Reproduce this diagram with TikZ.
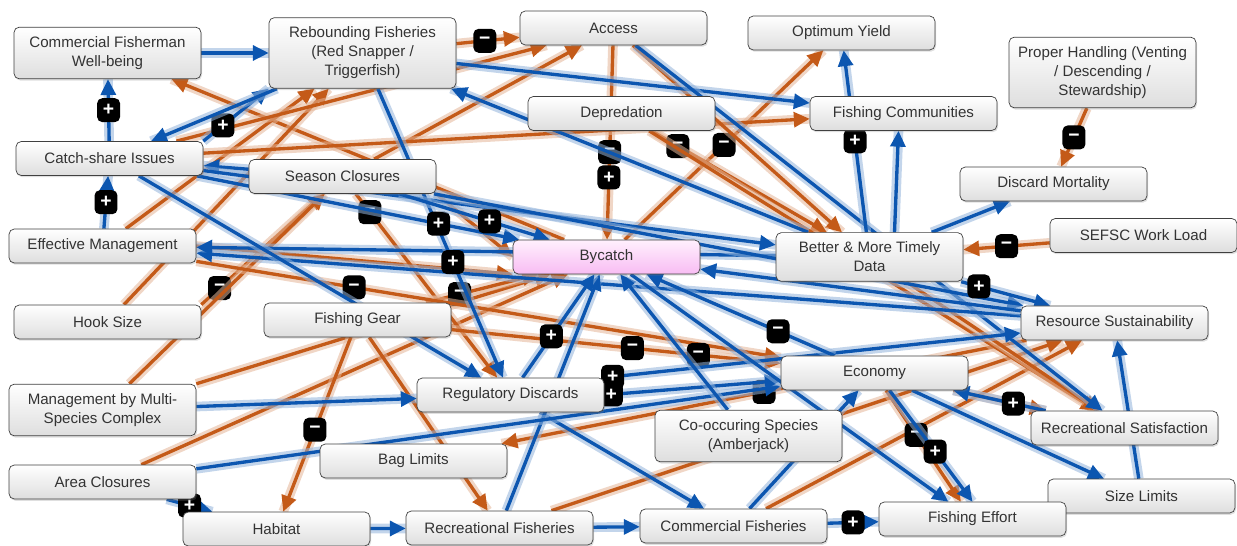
\documentclass[tikz,border=0pt]{standalone}
\usepackage{fontspec}
\setmainfont{Liberation Sans}
\usetikzlibrary{arrows.meta,calc,shadows}
\definecolor{linkblue}{RGB}{12,86,176}
\definecolor{linkorange}{RGB}{196,90,24}
\definecolor{boxgray}{RGB}{222,222,222}
\definecolor{bytop}{RGB}{255,240,253}
\definecolor{bybot}{RGB}{248,188,243}
\pgfdeclarelayer{front}
\pgfsetlayers{main,front}

\begin{document}
\begin{tikzpicture}[
  x=0.02cm, y=-0.02cm,
  factor/.style={draw=black!75,rounded corners=3pt,top color=white,bottom color=boxgray,
    minimum width=3.74cm,minimum height=0.68cm,inner xsep=3pt,inner ysep=5.3pt,align=center,
    font=\fontsize{8.6}{10.8}\selectfont,text=black!80,
    drop shadow={opacity=0.25,shadow xshift=0.6pt,shadow yshift=-1pt}},
  hub/.style={factor,top color=bytop,bottom color=bybot},
  posarr/.style={draw=linkblue,line width=1.9pt,-{Triangle[length=9pt,width=8.5pt]},
    preaction={draw=linkblue!45,line width=5.5pt,opacity=0.55,-}},
  negarr/.style={draw=linkorange,line width=1.9pt,-{Triangle[length=9pt,width=8.5pt]},
    preaction={draw=linkorange!45,line width=5.5pt,opacity=0.55,-}},
  sgn/.style={fill=black,text=white,rounded corners=3pt,minimum width=0.46cm,minimum height=0.48cm,
    inner sep=0pt,font=\bfseries\fontsize{11}{11}\selectfont}
]
\useasboundingbox (0,0) rectangle (1237,546);

% factors
\begin{pgfonlayer}{front}
\node[factor] (cfw)        at (107.5,53)   {Commercial Fisherman\\Well-being};
\node[factor] (rebound)    at (362.5,53)   {Rebounding Fisheries\\(Red Snapper /\\Triggerfish)};
\node[factor] (access)     at (613.5,28)   {Access};
\node[factor] (optyield)   at (841.5,33)   {Optimum Yield};
\node[factor] (handling)   at (1102.5,72.5) {Proper Handling (Venting\\/ Descending /\\Stewardship)};
\node[factor] (fcomm)      at (903.5,113.5) {Fishing Communities};
\node[factor] (depred)     at (621.5,113.5) {Depredation};
\node[factor] (catchshare) at (109.5,158.5) {Catch-share Issues};
\node[factor] (season)     at (342.5,176.5) {Season Closures};
\node[factor] (discmort)   at (1053.5,184)  {Discard Mortality};
\node[factor] (sefsc)      at (1143.5,235.5) {SEFSC Work Load};
\node[factor] (effmgmt)    at (102.5,246)   {Effective Management};
\node[hub]    (bycatch)    at (606.5,257)   {Bycatch};
\node[factor] (data)       at (869.5,257)   {Better \& More Timely\\Data};
\node[factor] (hook)       at (107.5,322)   {Hook Size};
\node[factor] (gear)       at (357.5,320)   {Fishing Gear};
\node[factor] (resource)   at (1114.5,323)  {Resource Sustainability};
\node[factor] (economy)    at (874.5,373)   {Economy};
\node[factor] (multisp)    at (102.5,410)   {Management by Multi-\\Species Complex};
\node[factor] (regdisc)    at (510.5,395)   {Regulatory Discards};
\node[factor] (cooccur)    at (748.5,436)   {Co-occuring Species\\(Amberjack)};
\node[factor] (recsat)     at (1124.5,428)  {Recreational Satisfaction};
\node[factor] (baglim)     at (413.5,461)   {Bag Limits};
\node[factor] (areacl)     at (102.5,482)   {Area Closures};
\node[factor] (sizelim)    at (1141.5,496)  {Size Limits};
\node[factor] (habitat)    at (276.5,529)   {Habitat};
\node[factor] (recfish)    at (499.5,528)   {Recreational Fisheries};
\node[factor] (comfish)    at (733.5,526)   {Commercial Fisheries};
\node[factor] (effort)     at (972.5,519)   {Fishing Effort};
\end{pgfonlayer}

% negative links
\draw[negarr] (bycatch) -- (cfw);
\draw[negarr] (effmgmt) -- (rebound);
\draw[negarr] (hook) -- (rebound);
\draw[negarr] (hook.north east) -- node[sgn,pos=.15]{−} (season);
\draw[negarr] (multisp) -- (season);
\draw[negarr] (multisp.north east) -- (bycatch);
\draw[negarr] (areacl) -- (bycatch);
\draw[negarr] (gear) -- node[sgn,pos=.53]{−} (habitat);
\draw[negarr] (gear) -- (recfish);
\draw[negarr] (resource) -- node[sgn,pos=.5]{−} (baglim);
\draw[negarr] (recfish) -- (resource);
\draw[negarr] (comfish) -- (resource);
\draw[negarr] (handling) -- node[sgn]{−} (discmort);
\draw[negarr] (sefsc) -- node[sgn]{−} (data);
\draw[negarr] (bycatch) -- node[sgn]{−} (optyield);
\draw[negarr] (access) -- node[sgn,pos=.55]{−} node[sgn,pos=.68]{+} (bycatch);
\draw[negarr] (rebound) -- node[sgn,pos=.45]{−} (access);
\draw[negarr] (season) -- (access);
\draw[negarr] (catchshare) -- (access);
\draw[negarr] (catchshare) -- (fcomm);
\draw[negarr] (access) -- (data);
\draw[negarr] (depred) -- node[sgn,pos=.15]{−} (data);
\draw[negarr] (depred) -- (recsat);
\draw[negarr] (data) -- (recsat);
\draw[negarr] (economy) -- (recsat);
\draw[negarr] (season.south east) -- (bycatch.west);
\draw[negarr] (effmgmt.east) -- (bycatch.south west);
\draw[negarr] (season) -- node[sgn,pos=.1]{−} (regdisc);
\draw[negarr] (gear) -- node[sgn,pos=.3]{−} (bycatch);
\draw[negarr] (effmgmt) -- node[sgn,pos=.27]{−} (economy);
\draw[negarr] (gear) -- node[sgn,pos=.55]{−} node[sgn,pos=.75]{−} (economy);
\draw[negarr] (economy) -- node[sgn,pos=.4]{−} (effort);

% positive links
\draw[posarr] (catchshare) -- node[sgn]{+} (cfw);
\draw[posarr] (effmgmt) -- node[sgn]{+} (catchshare);
\draw[posarr] (cfw) -- (rebound);
\draw[posarr] (catchshare.north east) -- node[sgn,pos=.3]{+} (rebound.south west);
\draw[posarr] (rebound) -- (catchshare);
\draw[posarr] (season) -- (catchshare);
\draw[posarr] (data) -- (rebound);
\draw[posarr] (rebound) -- (fcomm);
\draw[posarr] (access) -- (recsat);
\draw[posarr] (data) -- node[sgn]{+} (optyield);
\draw[posarr] ($(data.north)+(25,0)$) -- ($(fcomm.south)+(-5,0)$);
\draw[posarr] (data) -- (discmort);
\draw[posarr] (resource) -- (effmgmt);
\draw[posarr] (data) -- (effmgmt);
\draw[posarr] (catchshare) -- (data);
\draw[posarr] (season) -- (resource);
\draw[posarr] (catchshare) -- (regdisc);
\draw[posarr] (rebound) -- node[sgn,pos=.6]{+} (regdisc);
\draw[posarr] (regdisc) -- (comfish);
\draw[posarr] (recfish) -- (bycatch);
\draw[posarr] (habitat) -- (recfish);
\draw[posarr] (recfish) -- (comfish);
\draw[posarr] (comfish) -- node[sgn]{+} (effort);
\draw[posarr] (areacl) -- node[sgn]{+} (habitat);
\draw[posarr] (areacl) -- (economy);
\draw[posarr] (multisp) -- (regdisc);
\draw[posarr] (regdisc.north east) -- node[sgn,pos=.02]{+} (resource);
\draw[posarr] (regdisc.east) -- node[sgn,pos=.04]{+} (economy);
\draw[posarr] (cooccur) -- (bycatch);
\draw[posarr] (comfish) -- (economy);
\draw[posarr] ($(economy.south)+(15,0)$) -- node[sgn,pos=.55]{+} (effort.north);
\draw[posarr] (economy) -- (sizelim);
\draw[posarr] (sizelim) -- (resource);
\draw[posarr] (recsat) -- node[sgn,pos=.35]{+} (economy);
\draw[posarr] (resource) -- (bycatch);
\draw[posarr] (economy) -- node[sgn,pos=.3]{−} (bycatch);
\draw[posarr] (bycatch) -- (effort);
\draw[posarr] (catchshare) -- node[sgn,pos=.75]{+} (bycatch);
\draw[posarr] (season) -- node[sgn,pos=.6]{+} (bycatch);
\draw[posarr] (regdisc) -- node[sgn,pos=.4]{+} (bycatch);
\draw[posarr] (data) -- node[sgn,pos=.2]{+} (resource);
\end{tikzpicture}
\end{document}
